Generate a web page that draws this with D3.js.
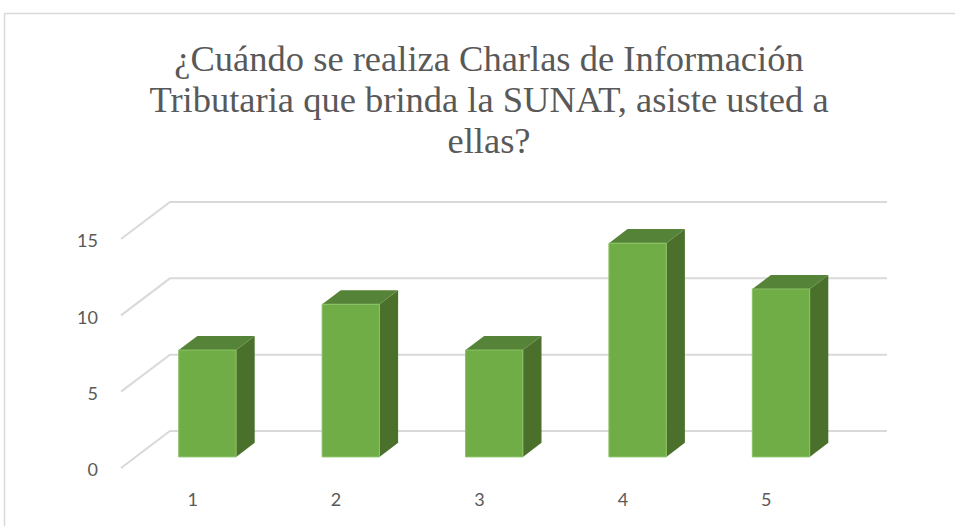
<!DOCTYPE html>
<html>
<head>
<meta charset="utf-8">
<style>
  body { margin: 0; background: #fff; }
  svg { display: block; }
</style>
</head>
<body>
<div id="chart"></div>

<script src="https://cdnjs.cloudflare.com/ajax/libs/d3/7.8.5/d3.min.js"></script>
<script>
  // Data
  const categories = ["1", "2", "3", "4", "5"];
  const values = [7, 10, 7, 14, 11];
  const yTicks = [0, 5, 10, 15];
  const titleLines = [
    "¿Cuándo se realiza Charlas de Información",
    "Tributaria que brinda la SUNAT, asiste usted a",
    "ellas?"
  ];

  const width = 955;
  const height = 526;

  // oblique "3D" projection: depth z in [0,1] shifts right and up
  const depthX = 49;
  const depthY = -37;
  const barZ0 = 0.3;
  const barZ1 = 0.68;

  // scales live on the front plane (z = 0)
  const x = d3.scaleBand()
    .domain(categories)
    .range([121, 838])
    .paddingInner(0.6)
    .paddingOuter(0.3);

  const y = d3.scaleLinear()
    .domain([0, 15])
    .range([468, 239]);

  const proj = (px, v, z) => [px + depthX * z, y(v) + depthY * z];

  const svg = d3.create("svg")
    .attr("width", width)
    .attr("height", height)
    .attr("viewBox", [0, 0, width, height]);

  // chart frame (cut off by the window on right and bottom)
  svg.append("rect")
    .attr("x", 4.5)
    .attr("y", 13.5)
    .attr("width", 1000)
    .attr("height", 600)
    .attr("fill", "#fff")
    .attr("stroke", "#d9d9d9")
    .attr("stroke-width", 1.5);

  // title
  svg.append("text")
    .attr("x", 489)
    .attr("y", 71)
    .attr("text-anchor", "middle")
    .attr("font-family", "'Liberation Serif', 'Times New Roman', serif")
    .attr("font-size", 36.5)
    .attr("fill", "#595959")
    .selectAll("tspan")
    .data(titleLines)
    .join("tspan")
    .attr("x", 489)
    .attr("dy", (d, i) => i === 0 ? 0 : 41)
    .text(d => d);

  // gridlines: side wall diagonal + back wall horizontal
  const x0 = x.range()[0];
  const x1 = x.range()[1];
  const line = d3.line();
  svg.append("g")
    .selectAll("path")
    .data(yTicks)
    .join("path")
    .attr("d", v => line([proj(x0, v, 0), proj(x0, v, 1), proj(x1, v, 1)]))
    .attr("fill", "none")
    .attr("stroke", "#d9d9d9")
    .attr("stroke-width", 2);

  // y tick labels
  svg.append("g")
    .selectAll("text")
    .data(yTicks)
    .join("text")
    .attr("x", 98)
    .attr("y", v => y(v) + 2)
    .attr("dy", "0.35em")
    .attr("text-anchor", "end")
    .attr("font-family", "Lato, 'Open Sans', sans-serif")
    .attr("font-size", 18)
    .attr("fill", "#595959")
    .text(d => d);

  // x tick labels
  svg.append("g")
    .selectAll("text")
    .data(categories)
    .join("text")
    .attr("x", d => x(d) + x.bandwidth() / 2)
    .attr("y", 500)
    .attr("dy", "0.35em")
    .attr("text-anchor", "middle")
    .attr("font-family", "Lato, 'Open Sans', sans-serif")
    .attr("font-size", 18)
    .attr("fill", "#595959")
    .text(d => d);

  // bars
  const bars = svg.append("g")
    .selectAll("g")
    .data(categories.map((c, i) => ({c, v: values[i]})))
    .join("g");

  const poly = pts => "M" + pts.map(p => p.join(",")).join("L") + "Z";

  // right side face
  bars.append("path")
    .attr("d", d => {
      const r = x(d.c) + x.bandwidth();
      return poly([proj(r, 0, barZ0), proj(r, 0, barZ1), proj(r, d.v, barZ1), proj(r, d.v, barZ0)]);
    })
    .attr("fill", "#4a702c");

  // top face
  bars.append("path")
    .attr("d", d => {
      const l = x(d.c), r = l + x.bandwidth();
      return poly([proj(l, d.v, barZ0), proj(l, d.v, barZ1), proj(r, d.v, barZ1), proj(r, d.v, barZ0)]);
    })
    .attr("fill", "#558337");

  // front face
  bars.append("path")
    .attr("d", d => {
      const l = x(d.c), r = l + x.bandwidth();
      return poly([proj(l, 0, barZ0), proj(l, d.v, barZ0), proj(r, d.v, barZ0), proj(r, 0, barZ0)]);
    })
    .attr("fill", "#70ad47")
    .attr("stroke", "#8cc266")
    .attr("stroke-width", 1);

  d3.select("#chart").node().appendChild(svg.node());
</script>
</body>
</html>
